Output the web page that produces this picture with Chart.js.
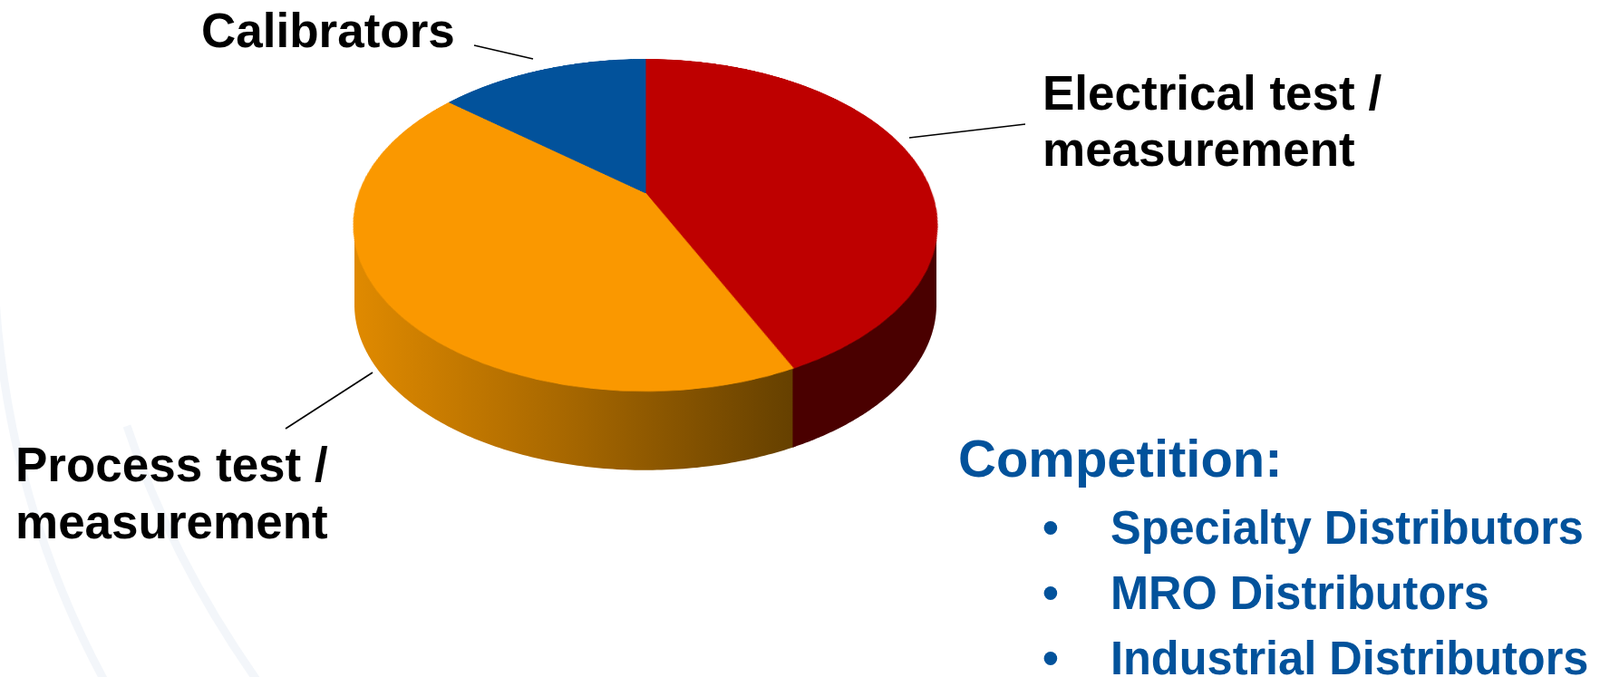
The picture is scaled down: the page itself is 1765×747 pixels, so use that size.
<!DOCTYPE html>
<html><head><meta charset="utf-8">
<script src="https://cdn.jsdelivr.net/npm/chart.js@4.4.1/dist/chart.umd.min.js"></script>
<style>
html,body{margin:0;padding:0;background:#fff;overflow:hidden}
#wrap{position:relative;width:1765px;height:747px;overflow:hidden}
#bg{position:absolute;left:0;top:0}
#pie{position:absolute;left:362px;top:-137px;transform-origin:350px 350px;
     transform:perspective(1357px) rotateX(56.07deg)}
</style>
</head><body><div id="wrap">
<canvas id="bg" width="1765" height="747"></canvas>
<canvas id="pie" width="700" height="700"></canvas>
</div>
<script>
// ---- data ----
const categories = ['Electrical test / measurement', 'Process test / measurement', 'Calibrators'];
const shares = [43, 43, 14];
const topColors = ['#BE0000', '#FA9800', '#02529B'];
const sideColors = ['#4A0000', 'gradient', '#01305E'];
const labelLines = [['Electrical test /', 'measurement'], ['Process test /', 'measurement'], ['Calibrators']];
const competitionTitle = 'Competition:';
const competitors = ['Specialty Distributors', 'MRO Distributors', 'Industrial Distributors'];

// ---- layout / style ----
const VIEW = {cx: 712, cy: 213, persp: 1357, tilt: 56.07 * Math.PI / 180, depth: 88};
const LABEL_POS = [
  {x: 1150, y: [121, 183], line: [[1003, 152], [1131, 137]]},
  {x: 17, y: [531, 594], line: [[315, 473], [411, 411]]},
  {x: 222, y: [52], line: [[523, 50], [588, 65]]}
];
const BLUE = '#02529B';

// screen position of a rim point of the (perspective-tilted) pie, from the library's arc angle
function project(alpha, R) {
  const x = R * Math.cos(alpha), y = R * Math.sin(alpha);
  const k = 1 / (1 - y * Math.sin(VIEW.tilt) / VIEW.persp);
  return [VIEW.cx + x * k, VIEW.cy + y * Math.cos(VIEW.tilt) * k];
}

const sidesAndText = {
  id: 'sidesAndText',
  afterDraw(chart) {
    const ctx = document.getElementById('bg').getContext('2d');
    ctx.clearRect(0, 0, 1765, 747);
    // faint background swooshes
    ctx.save();
    ctx.strokeStyle = 'rgba(228,234,243,0.45)';
    ctx.lineWidth = 9;
    ctx.beginPath(); ctx.moveTo(-5, 330); ctx.quadraticCurveTo(10, 560, 120, 760); ctx.stroke();
    ctx.beginPath(); ctx.moveTo(140, 470); ctx.quadraticCurveTo(190, 620, 290, 760); ctx.stroke();
    ctx.restore();

    // side walls of the slices (front half only), swept down from the projected rim
    const arcs = chart.getDatasetMeta(0).data;
    const grad = ctx.createLinearGradient(390, 0, 876, 0);
    grad.addColorStop(0, '#E08A00');
    grad.addColorStop(0.5, '#A56600');
    grad.addColorStop(1, '#654000');
    const order = arcs.map((a, i) => i).sort((i, j) => (sideColors[i] === 'gradient' ? -1 : 0) - (sideColors[j] === 'gradient' ? -1 : 0));
    const D = VIEW.depth;
    order.forEach(i => {
      const a = arcs[i];
      const ext = sideColors[i] === 'gradient' ? 0.01 : 0;
      const a1 = Math.max(a.startAngle - ext, 0), a2 = Math.min(a.endAngle + ext, Math.PI);
      if (a2 <= a1) return;
      const R = a.outerRadius - 1;
      const N = 160, pts = [];
      for (let s = 0; s <= N; s++) pts.push(project(a1 + (a2 - a1) * s / N, R));
      ctx.beginPath();
      for (let s = 0; s < N; s++) {
        let p = pts[s], q = pts[s + 1];
        if (q[0] < p[0]) { const t = p; p = q; q = t; }
        ctx.moveTo(p[0], p[1]);
        ctx.lineTo(q[0], q[1]);
        ctx.lineTo(q[0], q[1] + D);
        ctx.lineTo(p[0], p[1] + D);
        ctx.closePath();
      }
      ctx.fillStyle = sideColors[i] === 'gradient' ? grad : sideColors[i];
      ctx.fill('nonzero');
    });

    // category labels with leader lines
    ctx.save();
    ctx.textBaseline = 'alphabetic';
    ctx.textAlign = 'left';
    ctx.strokeStyle = '#000';
    ctx.lineWidth = 1.6;
    ctx.fillStyle = '#000';
    ctx.font = 'bold 53px "Liberation Sans", Arial, sans-serif';
    categories.forEach((c, i) => {
      const p = LABEL_POS[i];
      ctx.beginPath();
      ctx.moveTo(p.line[0][0], p.line[0][1]);
      ctx.lineTo(p.line[1][0], p.line[1][1]);
      ctx.stroke();
      labelLines[i].forEach((t, k) => ctx.fillText(t, p.x, p.y[k]));
    });
    // competition block
    ctx.fillStyle = BLUE;
    ctx.font = 'bold 58px "Liberation Sans", Arial, sans-serif';
    ctx.fillText(competitionTitle, 1057, 526);
    ctx.font = 'bold 51px "Liberation Sans", Arial, sans-serif';
    competitors.forEach((t, k) => {
      const y = 600 + k * 72;
      ctx.fillText('\u2022', 1150, y);
      ctx.save();
      ctx.translate(1225, y);
      ctx.scale(0.99, 1);
      ctx.fillText(t, 0, 0);
      ctx.restore();
    });
    ctx.restore();
  }
};

new Chart(document.getElementById('pie'), {
  type: 'pie',
  data: {
    labels: categories,
    datasets: [{
      data: shares,
      backgroundColor: topColors,
      borderColor: topColors,
      borderWidth: 1,
      radius: 316
    }]
  },
  options: {
    responsive: false,
    maintainAspectRatio: false,
    animation: false,
    events: [],
    layout: {padding: 0},
    plugins: {legend: {display: false}, tooltip: {enabled: false}}
  },
  plugins: [sidesAndText]
});
</script>
</body></html>
